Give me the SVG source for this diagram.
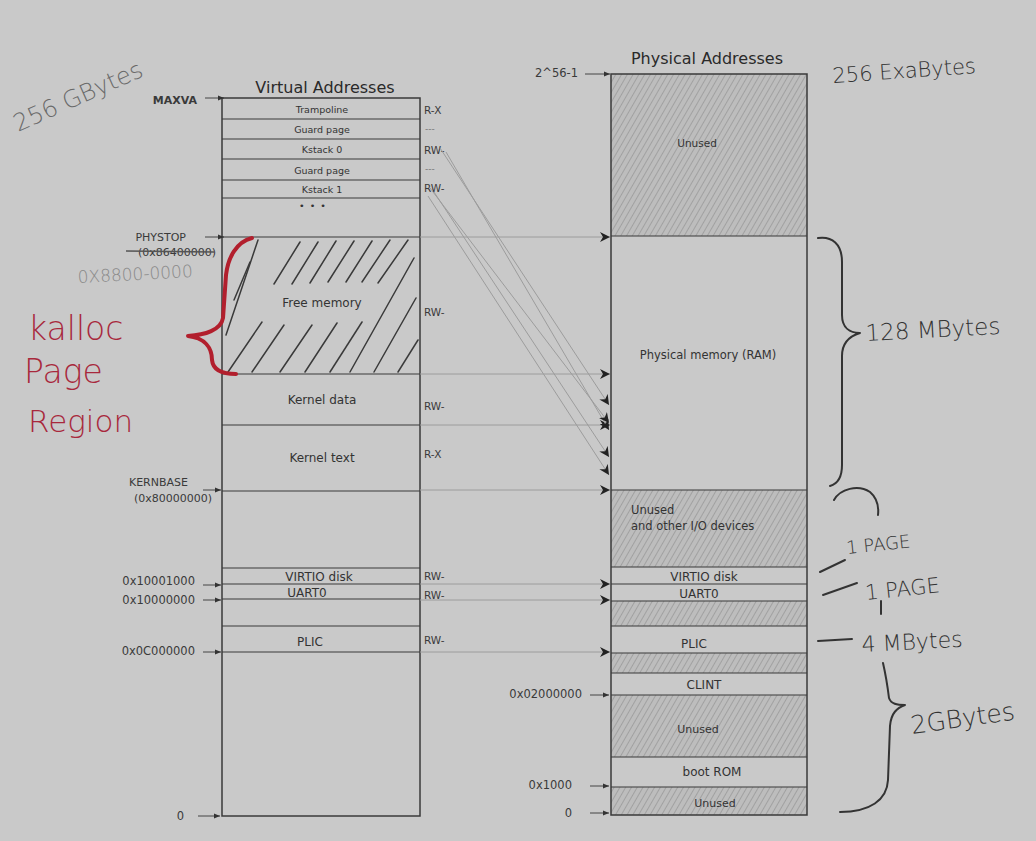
<svg xmlns="http://www.w3.org/2000/svg" width="1036" height="841" viewBox="0 0 1036 841">
<defs>
<style>
.t{font-family:"DejaVu Sans","Liberation Sans",sans-serif;fill:#333}
.lbl{font-size:11px;text-anchor:middle}
.sm{font-size:9.5px;text-anchor:middle}
.perm{font-size:10.5px;fill:#3a3a3a}
.dash{font-size:9px;fill:#777}
.addr{font-size:11.5px;text-anchor:end;fill:#3a3a3a}
.title{font-size:16px;text-anchor:middle;fill:#2a2a2a}
.box{fill:none;stroke:#3a3a3a;stroke-width:1.5}
.row{stroke:#3a3a3a;stroke-width:1.2}
.hand{font-family:"DejaVu Sans","Liberation Sans",sans-serif;font-weight:200;fill:#333}
.ink{fill:none;stroke:#333;stroke-width:2;stroke-linecap:round;stroke-linejoin:round}
.red{fill:none;stroke:#b21f2d;stroke-width:4;stroke-linecap:round;stroke-linejoin:round}
.redt{font-family:"DejaVu Sans","Liberation Sans",sans-serif;font-weight:200;fill:#a8283c}
.conn{stroke:#9c9c9c;stroke-width:1;fill:none;marker-end:url(#ah)}
.tick{stroke:#444;stroke-width:1;fill:none;marker-end:url(#sa)}
.stroke{stroke:#3a3a3a;stroke-width:1.5;stroke-linecap:round}
</style>
<pattern id="hatch" patternUnits="userSpaceOnUse" width="5" height="5" patternTransform="rotate(30)">
<rect width="5" height="5" fill="#bdbdbd"/>
<line x1="0" y1="0" x2="0" y2="5" stroke="#9a9a9a" stroke-width="1.6"/>
</pattern>
<marker id="ah" viewBox="0 0 10 10" refX="10" refY="5" markerWidth="10" markerHeight="10" markerUnits="userSpaceOnUse" orient="auto"><path d="M0,0 L10,5 L0,10 L3,5 z" fill="#222"/></marker>
<marker id="sa" viewBox="0 0 10 10" refX="10" refY="5" markerWidth="6" markerHeight="6" markerUnits="userSpaceOnUse" orient="auto"><path d="M0,1 L10,5 L0,9 z" fill="#333"/></marker>
<clipPath id="freeclip"><rect x="223" y="238" width="196" height="135"/></clipPath>
</defs>

<rect width="1036" height="841" fill="#c9c9c9"/>

<!-- Virtual address space -->
<g id="virtual">
<text class="t title" x="325" y="93">Virtual Addresses</text>
<rect class="box" x="222" y="98" width="198" height="718"/>
<g id="v-trampoline"><line class="row" x1="222" y1="119" x2="420" y2="119"/><text class="t sm" x="322" y="113">Trampoline</text><text class="t perm" x="424" y="114">R-X</text></g>
<g id="v-guard0"><line class="row" x1="222" y1="139" x2="420" y2="139"/><text class="t sm" x="322" y="133">Guard page</text><text class="t dash" x="425" y="132">---</text></g>
<g id="v-kstack0"><line class="row" x1="222" y1="159" x2="420" y2="159"/><text class="t sm" x="322" y="153">Kstack 0</text><text class="t perm" x="424" y="154">RW-</text></g>
<g id="v-guard1"><line class="row" x1="222" y1="180" x2="420" y2="180"/><text class="t sm" x="322" y="174">Guard page</text><text class="t dash" x="425" y="172">---</text></g>
<g id="v-kstack1"><line class="row" x1="222" y1="198" x2="420" y2="198"/><text class="t sm" x="322" y="193">Kstack 1</text><text class="t perm" x="424" y="192">RW-</text></g>
<text class="t sm" x="313" y="209" style="letter-spacing:1px">• • •</text>
<g id="v-free">
<line class="row" x1="222" y1="237" x2="420" y2="237"/>
<g clip-path="url(#freeclip)">
<line class="stroke" x1="226" y1="335" x2="258" y2="240"/>
<line class="stroke" x1="234" y1="300" x2="250" y2="262"/>
<line class="stroke" x1="274" y1="284" x2="300" y2="242"/>
<line class="stroke" x1="292" y1="284" x2="318" y2="242"/>
<line class="stroke" x1="310" y1="283" x2="336" y2="241"/>
<line class="stroke" x1="328" y1="282" x2="354" y2="241"/>
<line class="stroke" x1="346" y1="282" x2="372" y2="241"/>
<line class="stroke" x1="362" y1="282" x2="390" y2="240"/>
<line class="stroke" x1="378" y1="283" x2="408" y2="240"/>
<line class="stroke" x1="228" y1="372" x2="262" y2="322"/>
<line class="stroke" x1="252" y1="372" x2="284" y2="325"/>
<line class="stroke" x1="280" y1="372" x2="312" y2="325"/>
<line class="stroke" x1="305" y1="372" x2="337" y2="323"/>
<line class="stroke" x1="330" y1="372" x2="362" y2="322"/>
<line class="stroke" x1="350" y1="372" x2="414" y2="258"/>
<line class="stroke" x1="374" y1="372" x2="416" y2="298"/>
<line class="stroke" x1="398" y1="372" x2="418" y2="340"/>
</g>
<line class="row" x1="222" y1="374" x2="420" y2="374"/>
<text class="t lbl" x="322" y="307" style="font-size:12px">Free memory</text>
<text class="t perm" x="424" y="316">RW-</text>
</g>
<g id="v-kdata"><line class="row" x1="222" y1="425" x2="420" y2="425"/><text class="t lbl" x="322" y="404" style="font-size:12px">Kernel data</text><text class="t perm" x="424" y="410">RW-</text></g>
<g id="v-ktext"><line class="row" x1="222" y1="491" x2="420" y2="491"/><text class="t lbl" x="322" y="462" style="font-size:12px">Kernel text</text><text class="t perm" x="424" y="458">R-X</text></g>
<g id="v-virtio"><line class="row" x1="222" y1="568" x2="420" y2="568"/><line class="row" x1="222" y1="584" x2="420" y2="584"/><text class="t lbl" x="319" y="581" style="font-size:12px">VIRTIO disk</text><text class="t perm" x="424" y="580">RW-</text></g>
<g id="v-uart"><line class="row" x1="222" y1="599" x2="420" y2="599"/><text class="t lbl" x="307" y="597" style="font-size:12px">UART0</text><text class="t perm" x="424" y="599">RW-</text></g>
<g id="v-plic"><line class="row" x1="222" y1="626" x2="420" y2="626"/><line class="row" x1="222" y1="652" x2="420" y2="652"/><text class="t lbl" x="310" y="646" style="font-size:12px">PLIC</text><text class="t perm" x="424" y="644">RW-</text></g>
</g>

<!-- Virtual address labels -->
<g id="v-labels">
<text class="t addr" x="197" y="104" style="font-weight:bold;font-size:11px">MAXVA</text>
<line class="tick" x1="205" y1="98" x2="224" y2="98"/>
<text class="t addr" x="186" y="241" style="font-size:11px">PHYSTOP</text>
<text class="t addr" x="216" y="256" style="font-size:11px">(0x86400000)</text>
<line x1="126" y1="251" x2="214" y2="252" stroke="#555" stroke-width="1.3"/>
<line class="tick" x1="205" y1="237" x2="224" y2="237"/>
<text class="t addr" x="188" y="486" style="font-size:11px">KERNBASE</text>
<text class="t addr" x="212" y="502" style="font-size:11px">(0x80000000)</text>
<line class="tick" x1="203" y1="490" x2="221" y2="490"/>
<text class="t addr" x="195" y="585">0x10001000</text>
<line class="tick" x1="203" y1="585" x2="221" y2="585"/>
<text class="t addr" x="195" y="604">0x10000000</text>
<line class="tick" x1="203" y1="600" x2="221" y2="600"/>
<text class="t addr" x="195" y="655">0x0C000000</text>
<line class="tick" x1="203" y1="652" x2="221" y2="652"/>
<text class="t addr" x="184" y="820">0</text>
<line class="tick" x1="198" y1="816" x2="220" y2="816"/>
</g>

<!-- Physical address space -->
<g id="physical">
<text class="t title" x="707" y="64">Physical Addresses</text>
<rect x="611" y="74" width="196" height="162" fill="url(#hatch)"/>
<rect x="611" y="490" width="196" height="77" fill="url(#hatch)"/>
<rect x="611" y="601" width="196" height="25" fill="url(#hatch)"/>
<rect x="611" y="653" width="196" height="20" fill="url(#hatch)"/>
<rect x="611" y="695" width="196" height="62" fill="url(#hatch)"/>
<rect x="611" y="787" width="196" height="28" fill="url(#hatch)"/>
<rect class="box" x="611" y="74" width="196" height="741"/>
<g id="p-unused-top"><text class="t sm" x="697" y="147" style="font-size:10.5px">Unused</text></g>
<g id="p-ram"><line class="row" x1="611" y1="236" x2="807" y2="236"/><text class="t lbl" x="708" y="359" style="font-size:11.5px">Physical memory (RAM)</text></g>
<g id="p-unused-io"><line class="row" x1="611" y1="490" x2="807" y2="490"/><text class="t" x="631" y="514" style="font-size:11.5px">Unused</text><text class="t" x="631" y="530" style="font-size:11.5px">and other I/O devices</text></g>
<g id="p-virtio"><line class="row" x1="611" y1="567" x2="807" y2="567"/><line class="row" x1="611" y1="584" x2="807" y2="584"/><text class="t lbl" x="704" y="581" style="font-size:12px">VIRTIO disk</text></g>
<g id="p-uart"><line class="row" x1="611" y1="601" x2="807" y2="601"/><text class="t lbl" x="699" y="598" style="font-size:12px">UART0</text></g>
<g id="p-plic"><line class="row" x1="611" y1="626" x2="807" y2="626"/><line class="row" x1="611" y1="653" x2="807" y2="653"/><text class="t lbl" x="694" y="648" style="font-size:12px">PLIC</text></g>
<g id="p-clint"><line class="row" x1="611" y1="673" x2="807" y2="673"/><line class="row" x1="611" y1="695" x2="807" y2="695"/><text class="t lbl" x="704" y="689" style="font-size:12px">CLINT</text></g>
<g id="p-unused-mid"><text class="t lbl" x="698" y="733" style="font-size:11px">Unused</text></g>
<g id="p-bootrom"><line class="row" x1="611" y1="757" x2="807" y2="757"/><line class="row" x1="611" y1="787" x2="807" y2="787"/><text class="t lbl" x="712" y="776" style="font-size:12px">boot ROM</text></g>
<g id="p-unused-bot"><text class="t lbl" x="715" y="807" style="font-size:11px">Unused</text></g>
</g>

<!-- Physical address labels -->
<g id="p-labels">
<text class="t addr" x="578" y="77">2^56-1</text>
<line class="tick" x1="585" y1="74" x2="610" y2="74"/>
<text class="t addr" x="582" y="698">0x02000000</text>
<line class="tick" x1="590" y1="695" x2="609" y2="695"/>
<text class="t addr" x="572" y="789">0x1000</text>
<line class="tick" x1="590" y1="786" x2="609" y2="786"/>
<text class="t addr" x="572" y="817">0</text>
<line class="tick" x1="590" y1="813" x2="609" y2="813"/>
</g>

<!-- Connectors -->
<g id="connectors">
<line class="conn" x1="420" y1="237" x2="610" y2="237"/>
<line class="conn" x1="420" y1="374" x2="610" y2="374"/>
<line class="conn" x1="420" y1="425" x2="610" y2="425"/>
<line class="conn" x1="420" y1="490" x2="610" y2="490"/>
<line class="conn" x1="420" y1="584" x2="610" y2="584"/>
<line class="conn" x1="420" y1="600" x2="610" y2="600"/>
<line class="conn" x1="420" y1="652" x2="610" y2="652"/>
<line class="conn" x1="440" y1="148" x2="609" y2="405"/>
<line class="conn" x1="446" y1="152" x2="609" y2="430"/>
<line class="conn" x1="430" y1="188" x2="609" y2="423"/>
<line class="conn" x1="434" y1="192" x2="609" y2="457"/>
<line class="conn" x1="428" y1="196" x2="609" y2="475"/>
</g>

<!-- Handwritten annotations -->
<g id="notes">
<text class="hand" transform="translate(18,132) rotate(-24)" style="font-size:24px;fill:#6a6a6a">256 GBytes</text>
<text class="hand" transform="translate(78,283) rotate(-3)" style="font-size:17px;fill:#888">0X8800-0000</text>
<text class="hand" transform="translate(833,83) rotate(-4)" style="font-size:21px">256 ExaBytes</text>
<path class="ink" d="M818,238 C832,236 842,244 842,262 L842,315 C842,328 850,333 860,333 C850,336 842,343 842,356 L842,465 C842,478 837,484 830,486"/>
<text class="hand" transform="translate(866,341) rotate(-3)" style="font-size:23px">128 MBytes</text>
<path class="ink" d="M834,500 C840,489 858,484 870,492 C877,498 879,506 878,515"/>
<line class="ink" x1="820" y1="572" x2="845" y2="560"/>
<text class="hand" transform="translate(847,554) rotate(-6)" style="font-size:18px">1 PAGE</text>
<line class="ink" x1="823" y1="595" x2="857" y2="583"/>
<text class="hand" transform="translate(866,600) rotate(-6)" style="font-size:21px">1 PAGE</text>
<line class="ink" x1="881" y1="601" x2="881" y2="614"/>
<line class="ink" x1="818" y1="641" x2="852" y2="639"/>
<text class="hand" transform="translate(862,652) rotate(-3)" style="font-size:22px">4 MBytes</text>
<path class="ink" d="M883,663 C886,676 888,690 889,698 C891,704 897,705 905,705 C897,708 891,713 890,726 L888,780 C887,800 870,812 840,812"/>
<text class="hand" transform="translate(912,734) rotate(-8)" style="font-size:25px">2GBytes</text>
<path class="red" d="M252,238 C236,242 228,258 226,275 L223,318 C221,330 205,335 188,336 C205,338 212,348 212,360 C213,370 222,374 236,374"/>
<text class="redt" x="28" y="340" style="font-size:33px">kalloc</text>
<text class="redt" x="24" y="383" style="font-size:33px">Page</text>
<text class="redt" x="28" y="432" style="font-size:31px">Region</text>
</g>
</svg>
